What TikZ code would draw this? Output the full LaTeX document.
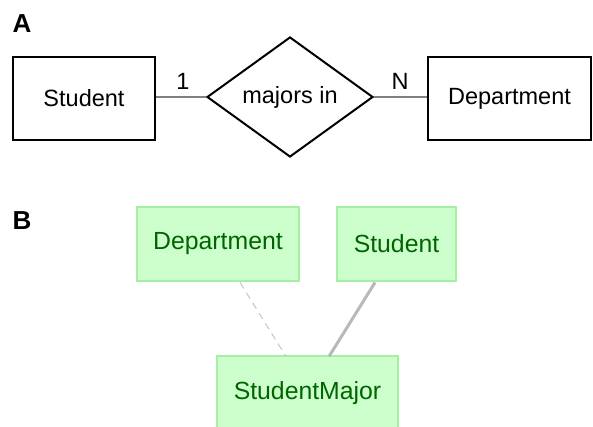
\documentclass[tikz,border=0pt]{standalone}
\usepackage{fontspec}
\setmainfont{Liberation Sans}
\usetikzlibrary{shapes.geometric}
\definecolor{gfill}{HTML}{CCFFCC}
\definecolor{gdraw}{HTML}{A6F0A6}
\definecolor{gtext}{HTML}{006400}
\definecolor{conn}{HTML}{808080}
\tikzset{
  txt/.style={font=\fontsize{23.5}{28}\selectfont, inner sep=0pt},
  entity/.style={txt, draw=black, line width=2pt, minimum height=83pt},
  rel/.style={txt, draw=black, line width=2pt, diamond, aspect=1.383, minimum width=166pt, minimum height=120pt},
  erline/.style={draw=conn, line width=2.2pt},
  tbl/.style={font=\fontsize{24.8}{29}\selectfont, inner sep=0pt, fill=gfill, draw=gdraw, line width=1.2pt, text=gtext, minimum height=74pt},
  panel/.style={font=\fontsize{26}{30}\bfseries\selectfont, inner sep=0pt},
}
\begin{document}
\begin{tikzpicture}[x=1pt,y=-1pt]
\useasboundingbox[fill=white] (0,0) rectangle (593,427);
\node[panel] (A) at (22,24) {A};
\node[panel] (B) at (22,221) {B};
% Part A
\node[entity, minimum width=142pt] (stud) at (84,98.5) {Student};
\node[rel] (maj) at (290,97) {majors in};
\node[entity, minimum width=163pt] (dept) at (509.5,98.5) {Department};
\draw[erline] (stud.east |- maj.west) -- (maj.west);
\draw[erline] (maj.east) -- (dept.west |- maj.east);
\node[txt] (one) at (183,81) {1};
\node[txt] (en) at (400,81) {N};
% Part B
\node[tbl, minimum width=162pt] (tdept) at (218,244) {Department};
\node[tbl, minimum width=119pt] (tstud) at (396.5,244) {Student};
\node[tbl, minimum width=181pt] (tsm) at (307.5,393) {StudentMajor};
\coordinate (d1) at (240,282.5);
\coordinate (d2) at (286,356.5);
\coordinate (s1) at (375,282.5);
\coordinate (s2) at (329,356.5);
\draw[draw=gray!45, line width=1pt, dash pattern=on 7pt off 5pt] (d1) -- (d2);
\draw[draw=gray!55, line width=3pt] (s1) -- (s2);
\end{tikzpicture}
\end{document}
